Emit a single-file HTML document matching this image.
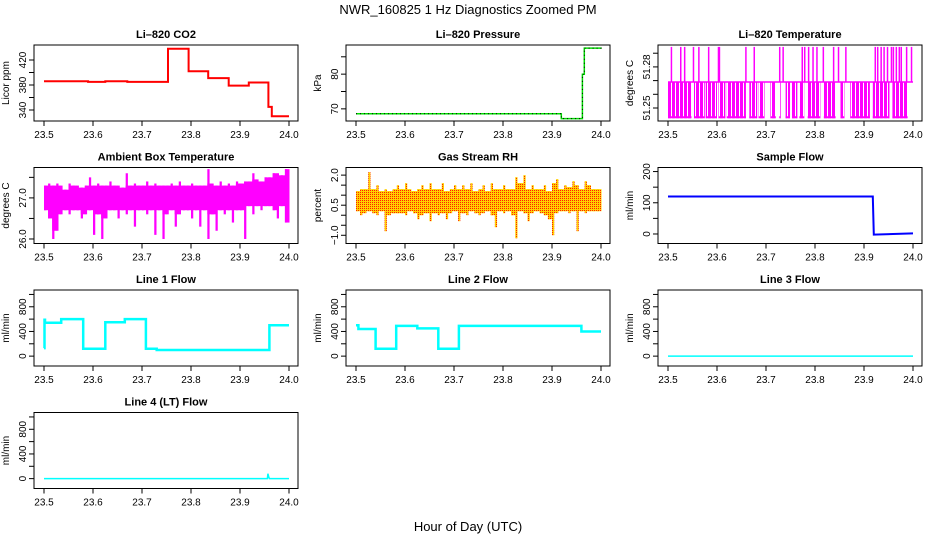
<!DOCTYPE html>
<html><head><meta charset="utf-8">
<style>
body{margin:0;background:#fff;}
svg{display:block;font-family:"Liberation Sans",Arial,sans-serif;}
</style></head>
<body>
<svg id="chart" width="936" height="540" viewBox="0 0 936 540">
<defs>
<pattern id="rhpat" width="2" height="2" patternUnits="userSpaceOnUse">
<rect width="2" height="2" fill="#ffd000"/><rect width="1" height="1" fill="#ff2000"/>
</pattern>
<pattern id="tpat" width="4" height="2" patternUnits="userSpaceOnUse">
<rect width="3" height="2" fill="#ff00ff"/>
</pattern>
</defs>
<text x="468" y="14" font-size="13" text-anchor="middle">NWR_160825  1 Hz Diagnostics Zoomed PM</text>
<text x="468" y="531" font-size="13" text-anchor="middle">Hour of Day (UTC)</text>
</svg>
<script>
// x ticks
const xTicks=[23.5,23.6,23.7,23.8,23.9,24.0];
const xTickLabels=["23.5","23.6","23.7","23.8","23.9","24.0"];
// CO2 step series
const co2Hours=[23.5,23.59,23.625,23.67,23.753,23.795,23.835,23.877,23.918,23.958,23.965,24.0];
const co2Vals=[386,385,386,385,438,402,391,379,384,345,330,330];
// Pressure
const presHours=[23.5,23.918,23.919,23.957,23.962,23.966,24.0];
const presVals=[68.6,68.6,67.2,67.2,80,87.5,87.3];
// Li-820 temperature levels
const tempLevels=[51.2946,51.269,51.2425];
const tempDense=[[23.5,23.548],[23.553,23.575],[23.577,23.6],[23.603,23.617],[23.62,23.659],[23.666,23.682],[23.685,23.697],[23.709,23.72],[23.727,23.73],[23.74,23.749],[23.753,23.764],[23.768,23.778],[23.785,23.811],[23.818,23.842],[23.852,23.86],[23.872,23.912],[23.918,23.952],[23.958,23.989]];
const tempSpikes=[23.507,23.526,23.534,23.552,23.563,23.583,23.603,23.605,23.659,23.676,23.728,23.735,23.774,23.779,23.787,23.796,23.804,23.817,23.838,23.848,23.863,23.923,23.928,23.935,23.941,23.948,23.956,23.96,23.966,23.972,23.976,23.987,23.997];
// Ambient box temperature bins
const ambHi=[27.3,27.35,27.3,27.35,27.3,27.2,27.35,27.3,27.3,27.25,27.3,27.5,27.3,27.35,27.3,27.3,27.4,27.3,27.3,27.25,27.6,27.3,27.35,27.3,27.3,27.4,27.3,27.35,27.3,27.3,27.3,27.35,27.3,27.4,27.3,27.3,27.35,27.3,27.3,27.3,27.7,27.35,27.3,27.4,27.3,27.35,27.3,27.4,27.35,27.4,27.4,27.6,27.45,27.4,27.5,27.5,27.6,27.6,27.55,27.7];
const ambLo=[26.7,26.5,26.0,26.2,26.6,26.7,26.6,26.7,26.7,26.5,26.6,26.7,26.1,26.6,26.0,26.5,26.7,26.7,26.5,26.7,26.6,26.7,26.3,26.7,26.7,26.6,26.7,26.1,26.7,26.0,26.6,26.7,26.3,26.6,26.7,26.7,26.5,26.7,26.3,26.7,26.0,26.6,26.2,26.7,26.6,26.7,26.4,26.7,26.7,26.0,26.8,26.6,26.8,26.7,26.8,26.8,26.7,26.5,26.8,26.4];
// Gas stream RH bins
const rhHi=[1.2,1.3,1.3,2.15,1.3,1.5,1.2,1.3,1.2,1.3,1.5,1.3,1.6,1.3,1.2,1.3,1.5,1.3,1.6,1.3,1.3,1.6,1.2,1.3,1.5,1.3,1.5,1.3,1.6,1.2,1.3,1.5,1.2,1.6,1.3,1.3,1.5,1.3,1.3,1.9,1.6,2.0,1.3,1.5,1.3,1.3,1.5,1.2,1.6,1.8,1.3,1.5,1.4,1.7,1.5,1.3,1.7,1.5,1.3,1.3];
const rhLo=[0.2,0.0,0.1,0.2,0.1,0.0,0.2,-0.8,0.0,0.1,0.1,0.1,0.0,0.2,0.1,-0.2,0.0,0.1,-0.3,0.1,0.0,0.1,-0.2,0.1,0.2,-0.3,0.1,0.0,0.2,0.1,0.0,0.1,0.2,0.0,-0.6,0.2,0.1,0.2,0.0,-1.15,0.2,0.1,-0.3,0.1,0.2,0.1,0.0,-0.2,-1.0,0.1,0.2,0.2,0.1,0.2,-0.8,0.2,0.1,0.2,0.2,0.2];
// Sample flow
const sampHours=[23.5,23.918,23.92,24.0];
const sampVals=[120,120,-2,2];
// Line flows
const l1Hours=[23.5,23.501,23.502,23.535,23.58,23.625,23.665,23.708,23.73,23.958,23.96,24.0];
const l1Vals=[130,590,540,600,120,550,600,120,100,100,500,500];
const l2Hours=[23.5,23.505,23.54,23.582,23.625,23.668,23.71,23.96,24.0];
const l2Vals=[500,440,120,490,450,120,490,400,400];
const l3Hours=[23.5,24.0];
const l3Vals=[0,0];
const l4Hours=[23.5,23.956,23.957,23.959,23.96,24.0];
const l4Vals=[0,0,80,20,0,0];

const NS="http://www.w3.org/2000/svg";
const svg=document.getElementById('chart');
const colX=[34,346,658], rowY=[45,167.5,290,412.5], W=264, H=76;
function mk(tag,attrs,parent){const e=document.createElementNS(NS,tag);for(const k in attrs)e.setAttribute(k,attrs[k]);(parent||svg).appendChild(e);return e;}

function panel(c,r,name,title,ylab,ylim,yt,ylabs){
  const L=colX[c],T=rowY[r];
  const g=mk('g',{});
  
  
  const xs=h=>L+10+(h-23.5)/0.5*245;
  const ys=v=>T+H-(v-ylim[0])/(ylim[1]-ylim[0])*H;
  const t=mk('text',{x:L+W/2,y:T-7,'font-size':11,'font-weight':'bold','text-anchor':'middle'},g);
  t.textContent=title;
  
  
  const yl=mk('text',{x:0,y:0,'font-size':10,'text-anchor':'middle',transform:`translate(${L-25},${T+H/2}) rotate(-90)`},g);
  yl.textContent=ylab;
  
  
  const plot=mk('g',{},g);
  
  
  const box=mk('rect',{x:L,y:T,width:W,height:H,fill:'none',stroke:'#000','stroke-width':1},g);
  
  
  const xa=mk('g',{},g);
  
  
  mk('line',{x1:xs(xTicks[0]),x2:xs(xTicks[xTicks.length-1]),y1:T+H,y2:T+H,stroke:'#000'},xa);
  xTicks.forEach((v,i)=>{mk('line',{x1:xs(v),x2:xs(v),y1:T+H,y2:T+H+5,stroke:'#000'},xa);
    const tx=mk('text',{x:xs(v),y:T+H+17,'font-size':10,'text-anchor':'middle'},xa);tx.textContent=xTickLabels[i];});
  const ya=mk('g',{},g);
  
  
  yt.forEach((v,i)=>{mk('line',{x1:L-5,x2:L,y1:ys(v),y2:ys(v),stroke:'#000'},ya);
    if(ylabs[i]){const tx=mk('text',{x:0,y:0,'font-size':10,'text-anchor':'middle',transform:`translate(${L-8},${ys(v)}) rotate(-90)`},ya);tx.textContent=ylabs[i];}});
  return {xs,ys,plot};
}
function stepLine(p,hours,vals,color,w){
  let d='';
  hours.forEach((h,i)=>{d+=(i?'L':'M')+p.xs(h).toFixed(1)+','+p.ys(vals[i]).toFixed(1);
    if(i<hours.length-1)d+='L'+p.xs(hours[i+1]).toFixed(1)+','+p.ys(vals[i]).toFixed(1);});
  return mk('path',{d,fill:'none',stroke:color,'stroke-width':w},p.plot);
}
function lineSeries(p,hours,vals,color,w){
  const d=hours.map((h,i)=>(i?'L':'M')+p.xs(h).toFixed(1)+','+p.ys(vals[i]).toFixed(1)).join('');
  return mk('path',{d,fill:'none',stroke:color,'stroke-width':w},p.plot);
}
function bands(p,hi,lo,fill){
  const n=hi.length,bw=0.5/n;
  hi.forEach((v,i)=>{const x0=p.xs(23.5+i*bw),x1=p.xs(23.5+(i+1)*bw);
    const r=mk('rect',{x:x0,y:p.ys(v),width:Math.max(1,(x1-x0)*0.55),height:p.ys(lo[i])-p.ys(v),fill},p.plot);
    
    
    const nh=Math.min(v,hi[Math.min(n-1,i+1)]), nl=Math.max(lo[i],lo[Math.min(n-1,i+1)]);
    const m=mk('rect',{x:x0,y:p.ys(nh),width:x1-x0+0.5,height:Math.max(0,p.ys(nl)-p.ys(nh)),fill},p.plot);
    
    
  });
}

// Row 1
let p=panel(0,0,'co2','Li\u2013820 CO2','Licor ppm',[322.4,444],[340,360,380,400,420],['340','','380','','420']);
stepLine(p,co2Hours,co2Vals,'#ff0000',2);
p=panel(1,0,'pressure','Li\u2013820 Pressure','kPa',[66.5,88.4],[70,75,80,85],['70','','80','']);
stepLine(p,presHours,presVals,'#00dd00',1.5);
stepLine(p,presHours,presVals,'#000',1).setAttribute('stroke-dasharray','1,3');
p=panel(2,0,'li820-temp','Li\u2013820 Temperature','degrees C',[51.2405,51.296],[51.25,51.26,51.27,51.28,51.29],['51.25','','','51.28','']);
(function(){const g=p.plot;const base=p.ys(tempLevels[1]),lo=p.ys(tempLevels[2]),hi=p.ys(tempLevels[0]);
 mk('line',{x1:p.xs(23.5),x2:p.xs(24.0),y1:base,y2:base,stroke:'#ff00ff','stroke-width':1.5},g);
 tempDense.forEach(s=>{const r=mk('rect',{x:p.xs(s[0]),y:base,width:p.xs(s[1])-p.xs(s[0]),height:lo-base,fill:'url(#tpat)'},g);
   
   mk('line',{x1:p.xs(s[0]),x2:p.xs(s[1]),y1:lo-1,y2:lo-1,stroke:'#ff00ff','stroke-width':2},g);});
 tempSpikes.forEach(h=>{const l=mk('line',{x1:p.xs(h),x2:p.xs(h),y1:hi,y2:base,stroke:'#ff00ff','stroke-width':1.5},g);
   });
})();
// Row 2
p=panel(0,1,'ambient-temp','Ambient Box Temperature','degrees C',[25.89,27.74],[26.0,26.5,27.0,27.5],['26.0','','27.0','']);
bands(p,ambHi,ambLo,'#ff00ff');
mk('rect',{x:p.xs(23.5),y:p.ys(27.15),width:p.xs(24)-p.xs(23.5),height:p.ys(26.85)-p.ys(27.15),fill:'#ff00ff'},p.plot);
p=panel(1,1,'gas-rh','Gas Stream RH','percent',[-1.41,2.38],[-1.0,-0.5,0.0,0.5,1.0,1.5,2.0],['\u22121.0','','','0.5','','','2.0']);
bands(p,rhHi,rhLo,'url(#rhpat)');
mk('rect',{x:p.xs(23.5),y:p.ys(1.0),width:p.xs(24)-p.xs(23.5),height:p.ys(0.3)-p.ys(1.0),fill:'url(#rhpat)'},p.plot);
p=panel(2,1,'sample-flow','Sample Flow','ml/min',[-30.5,213],[0,50,100,150,200],['0','','100','','200']);
lineSeries(p,sampHours,sampVals,'#0000ff',2);
// Row 3/4
const flowLim=[-160,1072],flowT=[0,200,400,600,800,1000],flowL=['0','','400','','800',''];
p=panel(0,2,'line1-flow','Line 1 Flow','ml/min',flowLim,flowT,flowL);
stepLine(p,l1Hours,l1Vals,'#00ffff',2.5);
p=panel(1,2,'line2-flow','Line 2 Flow','ml/min',flowLim,flowT,flowL);
stepLine(p,l2Hours,l2Vals,'#00ffff',2.5);
p=panel(2,2,'line3-flow','Line 3 Flow','ml/min',flowLim,flowT,flowL);
stepLine(p,l3Hours,l3Vals,'#00ffff',1.5);
p=panel(0,3,'line4-flow','Line 4 (LT) Flow','ml/min',flowLim,flowT,flowL);
lineSeries(p,l4Hours,l4Vals,'#00ffff',1.5);
</script>
</body></html>
